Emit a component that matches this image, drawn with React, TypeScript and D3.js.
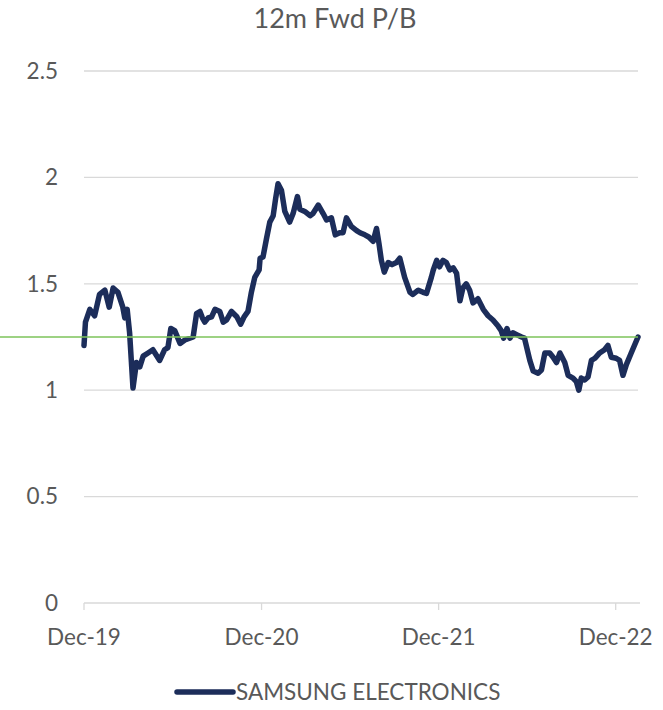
import React from "react";
import * as d3 from "d3";

const TITLE = "12m Fwd P/B";
const SERIES_NAME = "SAMSUNG ELECTRONICS";
const Y_TICKS = [0, 0.5, 1, 1.5, 2, 2.5];
const X_TICK_DATES = ["2019-12-31", "2020-12-31", "2021-12-31", "2022-12-31"];
const X_TICK_LABELS = ["Dec-19", "Dec-20", "Dec-21", "Dec-22"];
const REFERENCE_LEVEL = 1.25;

const DATES = [
  "2019-12-31","2020-01-03","2020-01-12","2020-01-22","2020-02-01","2020-02-12","2020-02-21","2020-02-29",
  "2020-03-10","2020-03-20","2020-03-24","2020-03-29","2020-04-03","2020-04-10","2020-04-17","2020-04-24",
  "2020-05-01","2020-05-11","2020-05-21","2020-06-04","2020-06-14","2020-06-21","2020-06-27","2020-07-05",
  "2020-07-16","2020-07-26","2020-08-12","2020-08-19","2020-08-26","2020-08-31","2020-09-05","2020-09-12",
  "2020-09-19","2020-09-26","2020-10-06","2020-10-13","2020-10-20","2020-10-30","2020-11-10","2020-11-18",
  "2020-11-25","2020-12-03","2020-12-10","2020-12-17","2020-12-26","2020-12-28","2021-01-03","2021-01-10",
  "2021-01-17","2021-01-24","2021-01-29","2021-02-03","2021-02-10","2021-02-17","2021-02-27","2021-03-06",
  "2021-03-15","2021-03-20","2021-03-30","2021-04-10","2021-04-16","2021-04-27","2021-05-07","2021-05-14",
  "2021-05-24","2021-06-01","2021-06-10","2021-06-17","2021-06-24","2021-07-04","2021-07-15","2021-07-22",
  "2021-08-01","2021-08-09","2021-08-18","2021-08-25","2021-08-30","2021-09-04","2021-09-10","2021-09-18",
  "2021-09-26","2021-10-05","2021-10-12","2021-10-22","2021-11-02","2021-11-08","2021-11-19","2021-11-29",
  "2021-12-06","2021-12-16","2021-12-20","2021-12-27","2022-01-02","2022-01-09","2022-01-16","2022-01-23",
  "2022-01-30","2022-02-06","2022-02-13","2022-02-19","2022-02-26","2022-03-05","2022-03-12","2022-03-22",
  "2022-04-02","2022-04-12","2022-04-22","2022-05-03","2022-05-09","2022-05-14","2022-05-21","2022-05-27",
  "2022-06-02","2022-06-11","2022-06-20","2022-06-26","2022-07-07","2022-07-14","2022-07-24","2022-07-31",
  "2022-08-07","2022-08-17","2022-08-24","2022-08-31","2022-09-07","2022-09-17","2022-09-24","2022-10-04",
  "2022-10-11","2022-10-16","2022-10-21","2022-10-28","2022-11-04","2022-11-11","2022-11-18","2022-11-28",
  "2022-12-08","2022-12-15","2022-12-22","2023-01-01","2023-01-08","2023-01-15","2023-01-22","2023-02-01",
  "2023-02-15"
];

const VALUES = [
  1.21,1.32,1.38,1.35,1.45,1.47,1.39,1.48,
  1.46,1.39,1.34,1.38,1.27,1.01,1.13,1.11,
  1.16,1.175,1.19,1.14,1.19,1.2,1.29,1.28,
  1.22,1.236,1.25,1.36,1.37,1.34,1.32,1.34,
  1.345,1.38,1.37,1.32,1.33,1.37,1.345,1.31,
  1.345,1.37,1.46,1.53,1.565,1.62,1.626,1.71,
  1.79,1.82,1.9,1.97,1.94,1.84,1.79,1.83,
  1.91,1.85,1.84,1.82,1.83,1.87,1.83,1.8,
  1.81,1.73,1.74,1.74,1.81,1.77,1.75,1.74,
  1.73,1.72,1.7,1.76,1.69,1.61,1.555,1.6,
  1.59,1.6,1.62,1.53,1.46,1.45,1.47,1.46,
  1.455,1.53,1.565,1.61,1.58,1.61,1.6,1.565,
  1.575,1.55,1.42,1.48,1.5,1.47,1.41,1.43,
  1.38,1.35,1.33,1.3,1.28,1.245,1.29,1.245,
  1.27,1.26,1.25,1.245,1.14,1.09,1.08,1.095,
  1.175,1.175,1.155,1.13,1.175,1.13,1.07,1.057,
  1.04,1.0,1.057,1.048,1.062,1.14,1.15,1.175,
  1.19,1.21,1.155,1.15,1.14,1.07,1.12,1.175,
  1.25
];

const W = 663;
const H = 710;
const FONT = "Lato, 'Open Sans', sans-serif";
const TEXT = "#595959";
const GRID = "#d9d9d9";
const NAVY = "#1c2d5a";
const GREEN = "#7cc35a";

export default function App() {
  const parse = d3.timeParse("%Y-%m-%d");
  const data = DATES.map((d, i) => ({ date: parse(d) as Date, value: VALUES[i] }));

  const x = d3
    .scaleTime()
    .domain([parse(DATES[0]) as Date, parse(DATES[DATES.length - 1]) as Date])
    .range([84, 638]);
  const y = d3.scaleLinear().domain([0, 2.5]).range([603, 71]);

  const line = d3
    .line<{ date: Date; value: number }>()
    .x((d) => x(d.date))
    .y((d) => y(d.value))
    .curve(d3.curveLinear);

  const [x0, x1] = x.range();

  return (
    <svg
      width={W}
      height={H}
      style={{ position: "absolute", left: 0, top: 0, background: "#fff" }}
      fontFamily={FONT}
    >
      <text x={335} y={28} textAnchor="middle" fontSize={27} fill={TEXT}>
        {TITLE}
      </text>

      {Y_TICKS.filter((t) => t !== 0).map((t) => (
        <line key={"g" + t} x1={x0} x2={x1} y1={y(t)} y2={y(t)} stroke={GRID} strokeWidth={1.3} />
      ))}
      {Y_TICKS.map((t) => (
        <text
          key={"yl" + t}
          x={58}
          y={y(t)}
          dy="0.35em"
          textAnchor="end"
          fontSize={22.5}
          fill={TEXT}
        >
          {String(t)}
        </text>
      ))}

      <line x1={x0} x2={x1 + 2} y1={y(0)} y2={y(0)} stroke={GRID} strokeWidth={1.3} />
      {X_TICK_DATES.map((d, i) => {
        const xx = x(parse(d) as Date);
        return (
          <g key={d}>
            <line x1={xx} x2={xx} y1={y(0)} y2={y(0) + 7} stroke={GRID} strokeWidth={1.3} />
            <text x={xx} y={645} textAnchor="middle" fontSize={22.5} fill={TEXT}>
              {X_TICK_LABELS[i]}
            </text>
          </g>
        );
      })}

      <path d={line(data) || ""} fill="none" stroke={NAVY} strokeWidth={5.5} strokeLinejoin="round" strokeLinecap="round" />

      <line x1={0} x2={x1} y1={y(REFERENCE_LEVEL)} y2={y(REFERENCE_LEVEL)} stroke={GREEN} strokeWidth={1.3} />

      <line x1={177} x2={233} y1={692} y2={692} stroke={NAVY} strokeWidth={5.5} strokeLinecap="round" />
      <text x={236} y={700} fontSize={22.5} fill={TEXT}>
        {SERIES_NAME}
      </text>
    </svg>
  );
}
